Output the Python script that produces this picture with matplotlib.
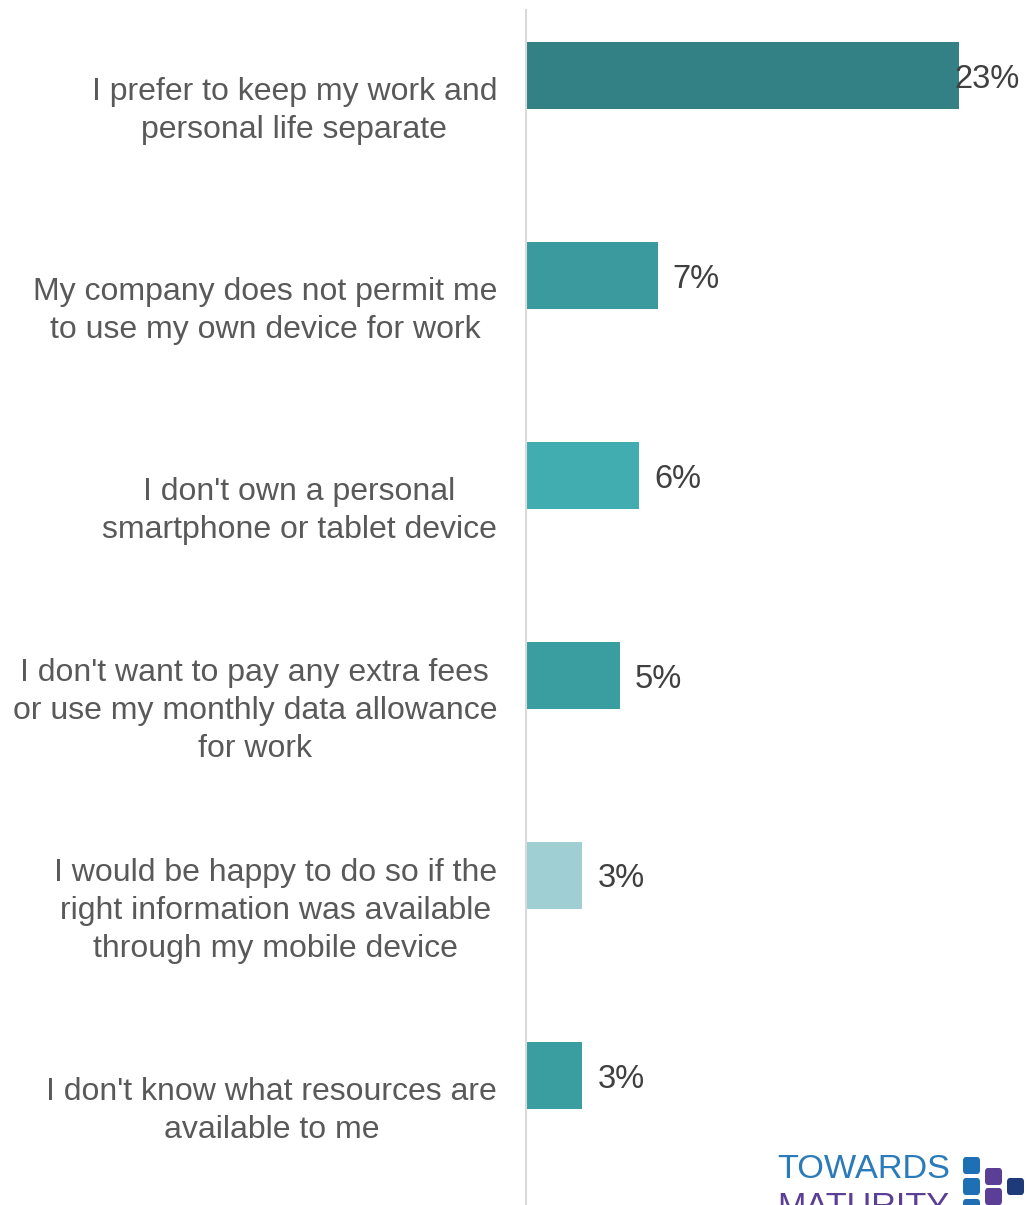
import matplotlib.pyplot as plt
from matplotlib.patches import FancyBboxPatch

# survey reasons and share of respondents (%)
reasons = [
    "I prefer to keep my work and\npersonal life separate",
    "My company does not permit me\nto use my own device for work",
    "I don't own a personal\nsmartphone or tablet device",
    "I don't want to pay any extra fees\nor use my monthly data allowance\nfor work",
    "I would be happy to do so if the\nright information was available\nthrough my mobile device",
    "I don't know what resources are\navailable to me",
]
shares = [23, 7, 6, 5, 3, 3]
bar_colors = ["#338085", "#3A9A9E", "#42ADB1", "#3A9DA0", "#A0CFD3", "#3A9DA0"]

plt.rcParams['font.family'] = ['Liberation Sans', 'DejaVu Sans']

W, H = 1034, 1205
fig = plt.figure(figsize=(W / 100, H / 100), dpi=100)
ax = fig.add_axes([526 / W, 0, (W - 526) / W, (H - 10) / H])

y = list(range(len(reasons)))
ax.barh(y, shares, height=0.335, color=bar_colors, zorder=2)

ax.set_xlim(0, 27)
ax.set_ylim(5.65, -0.325)

# value labels just past the bar end, pulled back if they would run off the edge
for i, v in enumerate(shares):
    ax.text(min(v + 0.8, 22.75), i + 0.02, f"{v}%", ha='left', va='center',
            fontsize=23.5, color='#404040')

# category labels sit a bit below each bar centre
for i, lab in enumerate(reasons):
    ax.text(-0.057, i + 0.18, lab, transform=ax.get_yaxis_transform(),
            ha='right', va='center', multialignment='center',
            fontsize=23, color='#595959', linespacing=1.33)

for s in ['top', 'right', 'bottom']:
    ax.spines[s].set_visible(False)
ax.spines['left'].set_color('#D9D9D9')
ax.spines['left'].set_linewidth(1.5)
ax.set_xticks([])
ax.set_yticks([])

# logo in the corner
fig.text(777 / W, 1 - 1170 / H, "TOWARDS", fontsize=24.7, color='#2B7BBA',
         ha='left', va='center')
fig.text(777 / W, 1 - 1208 / H, "MATURITY", fontsize=24.7, color='#5B3E96',
         ha='left', va='center')
squares = [
    (963, 1157, '#1F6FB5'), (985, 1168, '#5B3E96'), (1007, 1178, '#1E3A78'),
    (963, 1178, '#1F6FB5'), (985, 1188, '#5B3E96'), (963, 1199, '#1F6FB5'),
]
for sx, sy, c in squares:
    fig.patches.append(FancyBboxPatch(
        (sx / W, 1 - (sy + 17) / H), 17 / W, 17 / H,
        boxstyle="round,pad=0,rounding_size=0.003",
        transform=fig.transFigure, facecolor=c, edgecolor='none'))

fig.savefig("out.png", dpi=100)
